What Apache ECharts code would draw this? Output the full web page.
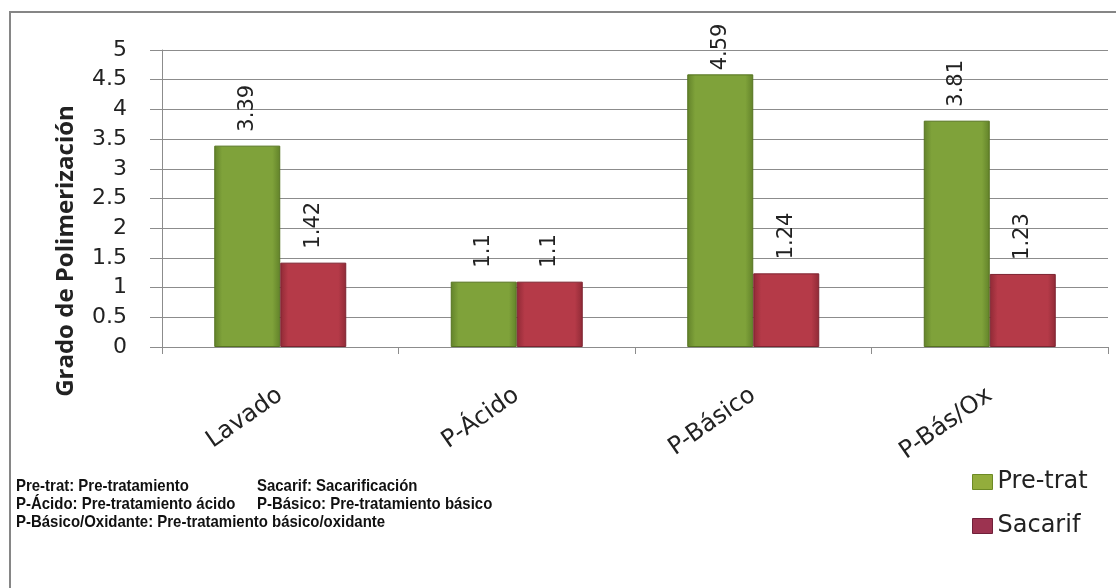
<!DOCTYPE html>
<html>
<head>
<meta charset="utf-8">
<script src="https://cdn.jsdelivr.net/npm/echarts@6/dist/echarts.min.js"></script>
<style>
  html, body { margin: 0; padding: 0; background: #ffffff; }
  #chart { width: 1116px; height: 588px; }
</style>
</head>
<body>
<div id="chart"></div>
<script>
// Degree of polymerization per treatment
const categories = ['Lavado', 'P-Ácido', 'P-Básico', 'P-Bás/Ox'];
const preTrat = [3.39, 1.1, 4.59, 3.81];
const sacarif = [1.42, 1.1, 1.24, 1.23];
const seriesNames = ['Pre-trat', 'Sacarif'];
const yTicks = { min: 0, max: 5, step: 0.5 };
const notes = [
  ['Pre-trat: Pre-tratamiento', 'Sacarif: Sacarificación'],
  ['P-Ácido: Pre-tratamiento ácido', 'P-Básico: Pre-tratamiento básico'],
  ['P-Básico/Oxidante: Pre-tratamiento básico/oxidante']
];
const yTitle = 'Grado de Polimerización';

const chart = echarts.init(document.getElementById('chart'), null, { renderer: 'canvas' });

const font = 'DejaVu Sans';

function barFill(dark, mid) {
  return new echarts.graphic.LinearGradient(0, 0, 1, 0, [
    { offset: 0, color: dark },
    { offset: 0.12, color: mid },
    { offset: 0.88, color: mid },
    { offset: 1, color: dark }
  ]);
}

const greenFill = barFill('#62822a', '#7fa23a');
const redFill = barFill('#8f2a36', '#b53a48');

function labelFor(dist) {
  return {
    show: true,
    position: 'top',
    rotate: 90,
    align: 'left',
    verticalAlign: 'middle',
    distance: dist,
    fontFamily: font,
    fontSize: 21,
    color: '#222'
  };
}

// Tallest bar has its label tucked closer so it stays inside the frame
function toItems(values) {
  return values.map(v => (v > 4.3 ? { value: v, label: labelFor(4) } : v));
}

// Condensed bold footnote lines under the plot
const noteGraphics = [];
notes.forEach((row, i) => {
  row.forEach((txt, j) => {
    noteGraphics.push({
      type: 'text',
      x: j === 0 ? 16 : 257,
      y: 478 + i * 18,
      scaleX: 0.88,
      style: {
        text: txt,
        font: 'bold 17px "Liberation Sans", Arial, sans-serif',
        fill: '#111'
      }
    });
  });
});

const option = {
  backgroundColor: '#ffffff',
  animation: false,
  grid: { left: 162, right: 8, top: 50, bottom: 241, containLabel: false },
  legend: {
    orient: 'vertical',
    left: 967,
    top: 465,
    itemWidth: 20,
    itemHeight: 15,
    itemGap: 20,
    icon: 'rect',
    textStyle: { fontFamily: font, fontSize: 24, color: '#222' },
    data: [
      { name: seriesNames[0], itemStyle: { color: '#93ad3c', borderColor: '#6d8a25', borderWidth: 1 } },
      { name: seriesNames[1], itemStyle: { color: '#9c3350', borderColor: '#70203a', borderWidth: 1 } }
    ]
  },
  xAxis: {
    type: 'category',
    data: categories,
    axisLine: { lineStyle: { color: '#8c8c8c', width: 1 } },
    axisTick: { show: true, length: 7, lineStyle: { color: '#8c8c8c' } },
    axisLabel: {
      rotate: 35,
      margin: 46,
      fontFamily: font,
      fontSize: 24,
      color: '#222'
    }
  },
  yAxis: {
    type: 'value',
    min: yTicks.min,
    max: yTicks.max,
    interval: yTicks.step,
    axisLine: { show: true, lineStyle: { color: '#8c8c8c', width: 1 } },
    axisTick: { show: true, length: 12, lineStyle: { color: '#8c8c8c' } },
    splitLine: { show: true, lineStyle: { color: '#8c8c8c', width: 1 } },
    axisLabel: {
      margin: 35,
      fontFamily: font,
      fontSize: 22,
      color: '#222',
      formatter: v => String(v)
    }
  },
  series: [
    {
      name: seriesNames[0],
      type: 'bar',
      data: toItems(preTrat),
      barWidth: 66,
      barGap: '0%',
      itemStyle: { color: greenFill, borderColor: '#55731f', borderWidth: 1 },
      label: labelFor(14)
    },
    {
      name: seriesNames[1],
      type: 'bar',
      data: toItems(sacarif),
      barWidth: 66,
      barGap: '0%',
      itemStyle: { color: redFill, borderColor: '#7d2330', borderWidth: 1 },
      label: labelFor(14)
    }
  ],
  graphic: [
    {
      type: 'rect',
      shape: { x: 10, y: 12, width: 1200, height: 700 },
      style: { fill: 'none', stroke: '#868686', lineWidth: 2 },
      silent: true,
      z: -1
    },
    {
      type: 'text',
      x: 66,
      y: 251,
      rotation: Math.PI / 2,
      style: {
        text: yTitle,
        font: 'bold 24px "Open Sans", sans-serif',
        fill: '#222',
        align: 'center',
        verticalAlign: 'middle'
      }
    }
  ].concat(noteGraphics)
};

chart.setOption(option);
</script>
</body>
</html>
